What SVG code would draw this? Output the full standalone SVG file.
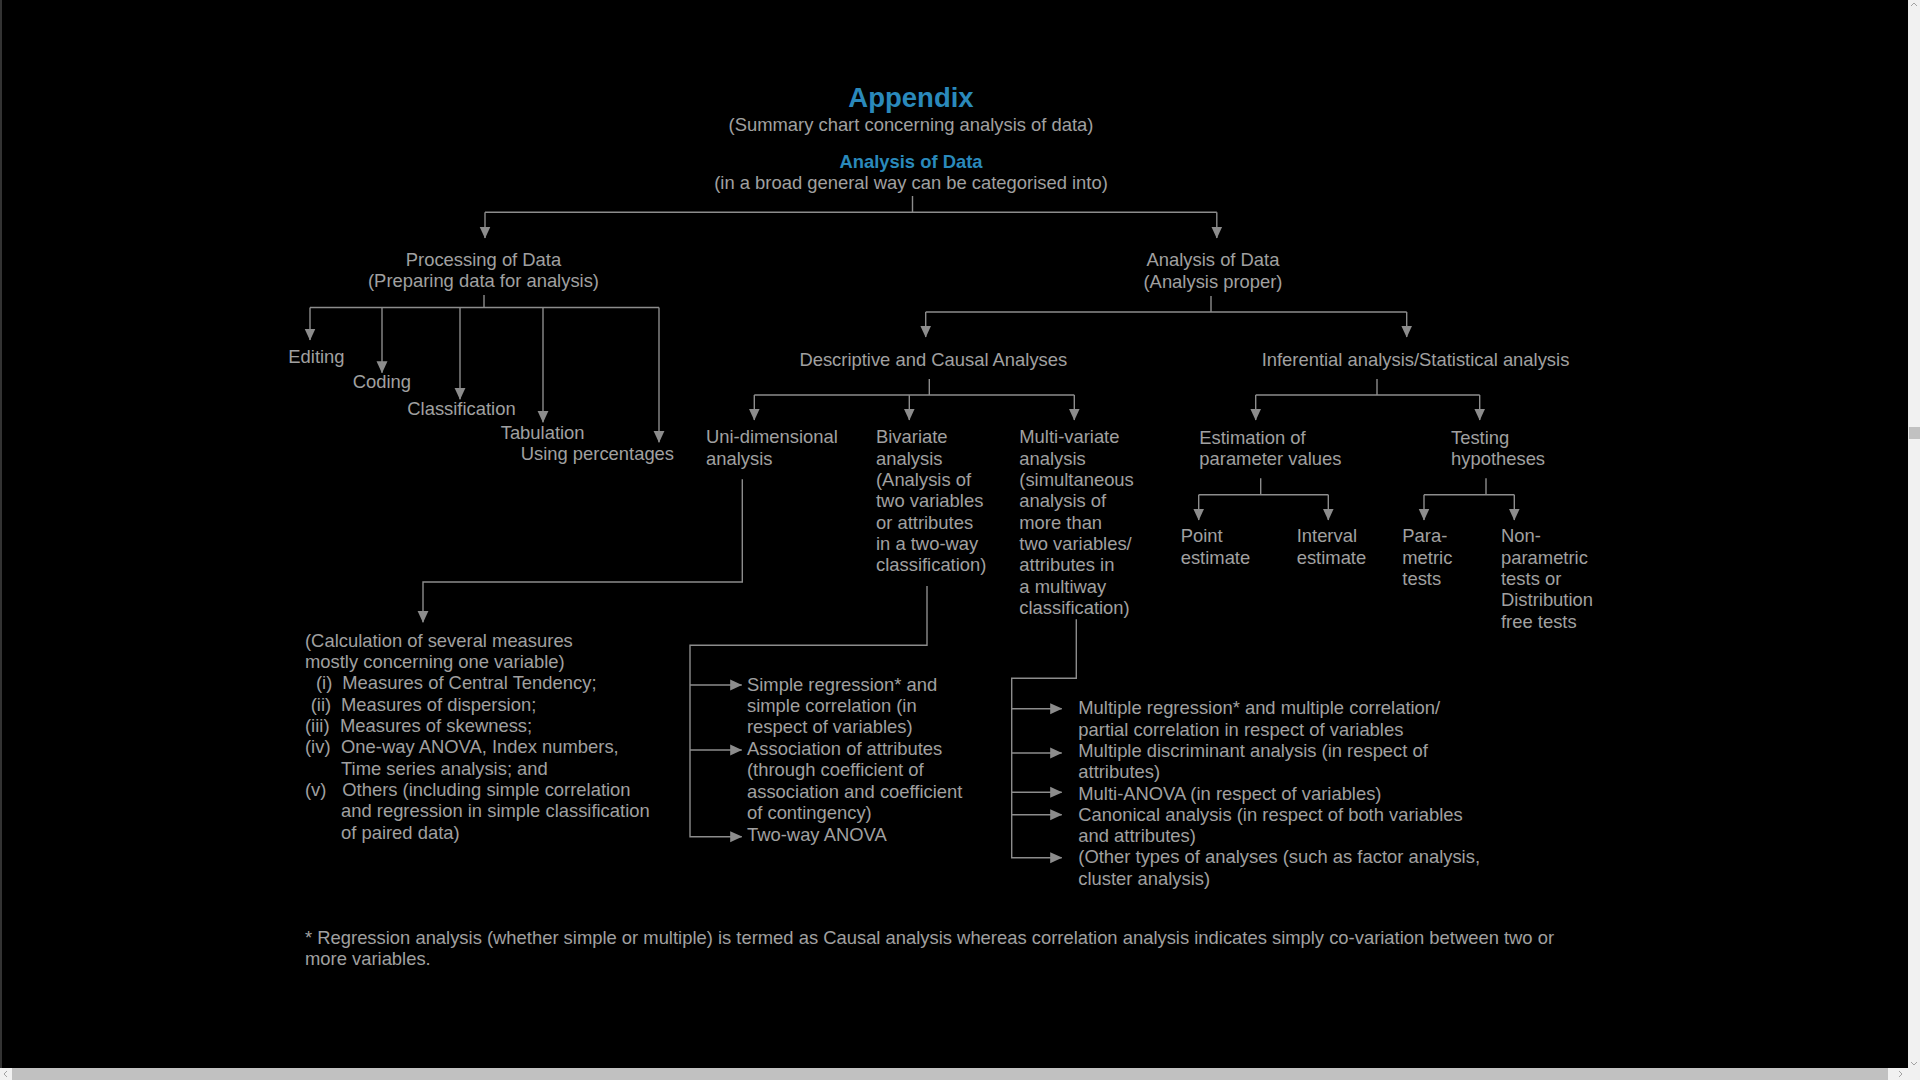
<svg xmlns="http://www.w3.org/2000/svg" width="1920" height="1080" viewBox="0 0 1920 1080">
<defs>
<style>
text{font-family:"Liberation Sans",Arial,sans-serif;font-size:18.4px;fill:#a0a0a0}
.t{fill:#2a89bb;font-weight:bold}
.m{text-anchor:middle}
.c path{fill:none;stroke:#8c8c8c;stroke-width:1.4}
.a{marker-end:url(#ah)}
</style>
<marker id="ah" markerUnits="userSpaceOnUse" markerWidth="12" markerHeight="12" viewBox="0 0 12 11" refX="11.5" refY="5.5" orient="auto">
<path d="M0,0 L12,5.5 L0,11 z" fill="#8c8c8c"/>
</marker>
</defs>
<rect width="1920" height="1080" fill="#000"/>
<rect x="0" y="0" width="2" height="1068" fill="#333"/>
<g id="scrollbars">
<rect x="1908" y="0" width="12" height="1068" fill="#f1f1f1"/>
<rect x="1909" y="427" width="11" height="12" fill="#c1c1c1"/>
<path d="M1911,6 L1914,3 L1917,6 M1911,1062 L1914,1065 L1917,1062" fill="none" stroke="#a3a3a3" stroke-width="1"/>
<rect x="0" y="1068" width="1920" height="12" fill="#f1f1f1"/>
<rect x="12" y="1068" width="1876" height="12" fill="#c1c1c1"/>
<path d="M7,1071 L4,1074 L7,1077 M1899,1071 L1902,1074 L1899,1077" fill="none" stroke="#a3a3a3" stroke-width="1"/>
</g>
<g id="header">
<text class="t m" x="911" y="107.3" style="font-size:27.5px">Appendix</text>
<text class="m" x="911" y="131">(Summary chart concerning analysis of data)</text>
</g>
<g id="root">
<text class="t m" x="911" y="168.3">Analysis of Data</text>
<text class="m" x="911" y="188.5">(in a broad general way can be categorised into)</text>
</g>
<g id="processing">
<text class="m" x="483.5" y="266">Processing of Data</text>
<text class="m" x="483.5" y="287.3">(Preparing data for analysis)</text>
</g>
<g id="analysis-proper">
<text class="m" x="1213" y="266">Analysis of Data</text>
<text class="m" x="1213" y="287.7">(Analysis proper)</text>
</g>
<g id="editing"><text x="288.3" y="362.7">Editing</text></g>
<g id="coding"><text x="352.7" y="388.3">Coding</text></g>
<g id="classification"><text x="407.3" y="415.3">Classification</text></g>
<g id="tabulation"><text x="500.7" y="439.3">Tabulation</text></g>
<g id="percentages"><text x="520.7" y="460">Using percentages</text></g>
<g id="descriptive"><text class="m" x="933.3" y="365.7">Descriptive and Causal Analyses</text></g>
<g id="inferential"><text class="m" x="1415.5" y="366">Inferential analysis/Statistical analysis</text></g>
<g id="uni">
<text x="706" y="443.3">Uni-dimensional</text>
<text x="706" y="464.7">analysis</text>
</g>
<g id="bi">
<text x="876" y="443.3">Bivariate</text>
<text x="876" y="464.7">analysis</text>
<text x="876" y="486">(Analysis of</text>
<text x="876" y="507.3">two variables</text>
<text x="876" y="528.7">or attributes</text>
<text x="876" y="550">in a two-way</text>
<text x="876" y="571.3">classification)</text>
</g>
<g id="multi">
<text x="1019.3" y="443.3">Multi-variate</text>
<text x="1019.3" y="464.7">analysis</text>
<text x="1019.3" y="486">(simultaneous</text>
<text x="1019.3" y="507.3">analysis of</text>
<text x="1019.3" y="528.7">more than</text>
<text x="1019.3" y="550">two variables/</text>
<text x="1019.3" y="571.3">attributes in</text>
<text x="1019.3" y="592.7">a multiway</text>
<text x="1019.3" y="614">classification)</text>
</g>
<g id="estimation">
<text x="1199.3" y="444">Estimation of</text>
<text x="1199.3" y="465.3">parameter values</text>
</g>
<g id="testing">
<text x="1451" y="444">Testing</text>
<text x="1451" y="465.3">hypotheses</text>
</g>
<g id="point">
<text x="1180.7" y="542.3">Point</text>
<text x="1180.7" y="563.6">estimate</text>
</g>
<g id="interval">
<text x="1296.7" y="542.3">Interval</text>
<text x="1296.7" y="563.6">estimate</text>
</g>
<g id="parametric">
<text x="1402.3" y="542.3">Para-</text>
<text x="1402.3" y="563.6">metric</text>
<text x="1402.3" y="584.9">tests</text>
</g>
<g id="nonparametric">
<text x="1501" y="542.3">Non-</text>
<text x="1501" y="563.6">parametric</text>
<text x="1501" y="584.9">tests or</text>
<text x="1501" y="606.2">Distribution</text>
<text x="1501" y="627.5">free tests</text>
</g>
<g id="uni-measures">
<text x="305" y="646.7">(Calculation of several measures</text>
<text x="305" y="668">mostly concerning one variable)</text>
<text x="316" y="689.3">(i)</text><text x="342.3" y="689.3">Measures of Central Tendency;</text>
<text x="310.7" y="710.7">(ii)</text><text x="341" y="710.7">Measures of dispersion;</text>
<text x="305" y="732">(iii)</text><text x="340" y="732">Measures of skewness;</text>
<text x="305" y="753.3">(iv)</text><text x="341" y="753.3">One-way ANOVA, Index numbers,</text>
<text x="341" y="774.7">Time series analysis; and</text>
<text x="305" y="796">(v)</text><text x="342.3" y="796">Others (including simple correlation</text>
<text x="341" y="817.3">and regression in simple classification</text>
<text x="341" y="838.7">of paired data)</text>
</g>
<g id="bi-simple">
<text x="747" y="690.7">Simple regression* and</text>
<text x="747" y="712">simple correlation (in</text>
<text x="747" y="733.3">respect of variables)</text>
</g>
<g id="bi-association">
<text x="747" y="755">Association of attributes</text>
<text x="747" y="776.3">(through coefficient of</text>
<text x="747" y="797.6">association and coefficient</text>
<text x="747" y="818.9">of contingency)</text>
</g>
<g id="bi-anova"><text x="747" y="840.7">Two-way ANOVA</text></g>
<g id="multi-regression">
<text x="1078.3" y="714.3">Multiple regression* and multiple correlation/</text>
<text x="1078.3" y="735.6">partial correlation in respect of variables</text>
</g>
<g id="multi-discriminant">
<text x="1078.3" y="756.9">Multiple discriminant analysis (in respect of</text>
<text x="1078.3" y="778.2">attributes)</text>
</g>
<g id="multi-anova"><text x="1078.3" y="799.5">Multi-ANOVA (in respect of variables)</text></g>
<g id="multi-canonical">
<text x="1078.3" y="820.8">Canonical analysis (in respect of both variables</text>
<text x="1078.3" y="842.1">and attributes)</text>
</g>
<g id="multi-other">
<text x="1078.3" y="863.4">(Other types of analyses (such as factor analysis,</text>
<text x="1078.3" y="884.7">cluster analysis)</text>
</g>
<g id="footnote">
<text x="305" y="943.5">* Regression analysis (whether simple or multiple) is termed as Causal analysis whereas correlation analysis indicates simply co-variation between two or</text>
<text x="305" y="964.8">more variables.</text>
</g>
<g id="connectors" class="c">
<path d="M912.5,196 V212.3 M485,212.3 H1216.8"/>
<path class="a" d="M485,212.3 V238"/>
<path class="a" d="M1216.8,212.3 V238"/>
<path d="M484,295 V307.5 M310,307.5 H659"/>
<path class="a" d="M310,307.5 V340"/>
<path class="a" d="M382,307.5 V372.7"/>
<path class="a" d="M460,307.5 V399.3"/>
<path class="a" d="M543,307.5 V422.3"/>
<path class="a" d="M659,307.5 V442.3"/>
<path d="M1211,296 V312 M925.7,312 H1406.7"/>
<path class="a" d="M925.7,312 V337"/>
<path class="a" d="M1406.7,312 V337"/>
<path d="M929.3,379 V395 M754.3,395 H1074.3"/>
<path class="a" d="M754.3,395 V420"/>
<path class="a" d="M909.3,395 V420"/>
<path class="a" d="M1074.3,395 V420"/>
<path d="M1377,379 V395 M1255.7,395 H1479.7"/>
<path class="a" d="M1255.7,395 V420"/>
<path class="a" d="M1479.7,395 V420"/>
<path d="M1260.7,478.3 V494.7 M1198.7,494.7 H1328.3"/>
<path class="a" d="M1198.7,494.7 V520"/>
<path class="a" d="M1328.3,494.7 V520"/>
<path d="M1486,478.3 V494.7 M1424,494.7 H1514.3"/>
<path class="a" d="M1424,494.7 V520"/>
<path class="a" d="M1514.3,494.7 V520"/>
<path class="a" d="M742.3,479.3 V582 H423 V622.3"/>
<path class="a" d="M927,586 V645.3 H690 V836.7 H741.7"/>
<path class="a" d="M690,685 H741.7"/>
<path class="a" d="M690,750 H741.7"/>
<path class="a" d="M1076.3,619.3 V678.3 H1011.7 V857.7 H1061.7"/>
<path class="a" d="M1011.7,708.7 H1061.7"/>
<path class="a" d="M1011.7,753 H1061.7"/>
<path class="a" d="M1011.7,792.3 H1061.7"/>
<path class="a" d="M1011.7,814.7 H1061.7"/>
</g>
</svg>
